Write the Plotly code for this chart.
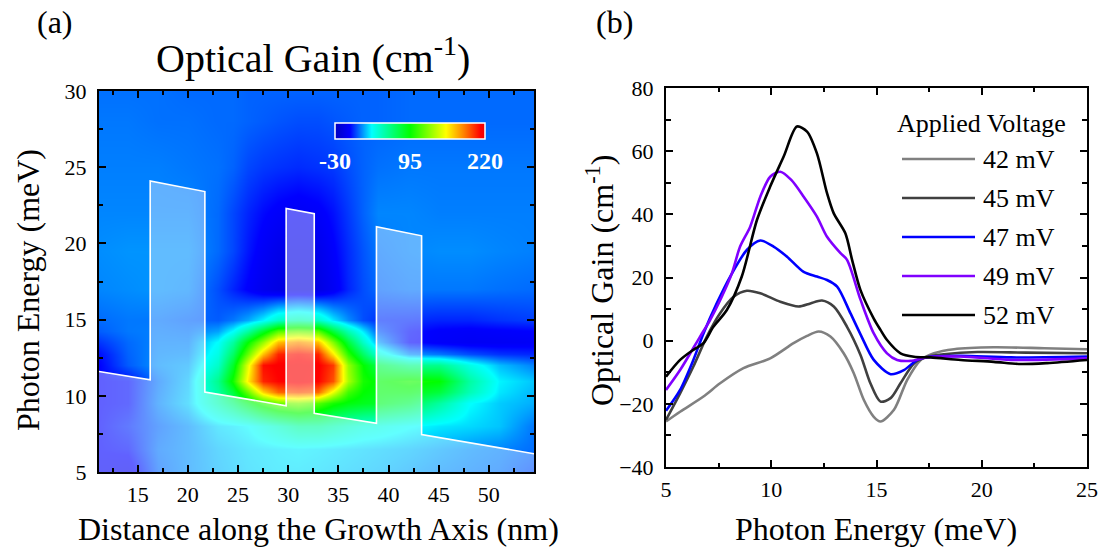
import plotly.graph_objects as go

W, H = 1109, 552
def px(x):
    return x / W
def py(y):
    return 1 - y / H

FONT = "Liberation Serif"

# ---------------- Panel (a): optical gain map ----------------
dist_nm = [11, 14, 17, 20, 23, 24.5, 26, 27.5, 29, 31, 33, 34.5, 36, 37.5, 39, 42, 45, 48, 51, 55]
energy_meV = [5, 6.5, 8, 9.5, 10.25, 11, 12, 12.75, 13.5, 14.25, 15, 17, 19.5, 22, 25, 28, 30]
gain_map = [
    [-8, -10, 10, 16, 21, 23, 25, 26, 27, 27, 26, 25, 24, 23, 22, 19, 16, 14, 12, 5],          # 5
    [-5, -3, 12, 16, 22, 24, 26, 27, 28, 29, 28, 27, 26, 25, 24, 22, 19, 16, 14, 10],          # 6.5
    [-5, 1, 10, 16, 26, 28, 31, 38, 45, 55, 55, 50, 45, 40, 38, 32, 28, 26, 23, 10],           # 8
    [-5, -3, 14, 24, 50, 65, 85, 105, 120, 125, 115, 100, 92, 88, 85, 75, 55, 32, 24, 19],     # 9.5
    [-5, -3, 13, 23, 55, 80, 120, 165, 190, 195, 190, 150, 110, 95, 90, 90, 80, 50, 28, 20],   # 10.25
    [-5, -3, 12, 22, 60, 100, 160, 205, 212, 215, 212, 195, 135, 100, 92, 100, 95, 55, 30, 22],# 11
    [-6, 8, 16, 19, 45, 85, 150, 210, 214, 215, 214, 200, 130, 95, 75, 60, 60, 38, 22, 12],    # 12
    [-4, 9, 15, 16, 38, 70, 120, 170, 205, 210, 205, 160, 105, 70, 40, 16, 12, 6, 2, 0],       # 12.75
    [2, 10, 14, 14, 32, 55, 95, 130, 170, 180, 170, 125, 80, 45, 18, -4, -7, -9, -9, -8],      # 13.5
    [8, 12, 13, 12, 18, 32, 55, 85, 115, 120, 115, 80, 50, 28, 8, -3, -6, -7, -6, -5],         # 14.25
    [10, 12, 12, 10, 8, 12, 19, 30, 45, 50, 45, 28, 15, 6, 2, 1, 0, 0, 2, 4],                  # 15
    [14, 15, 16, 15, 6, 0, -6, -12, -16, -16, -16, -9, 0, 6, 10, 12, 12, 12, 11, 10],          # 17
    [15, 16, 16, 16, 10, 5, -2, -8, -13, -13, -13, -6, 1, 7, 12, 14, 15, 15, 14, 13],          # 19.5
    [14, 14, 14, 14, 10, 5, 0, -4, -7, -9, -7, -3, 3, 9, 14, 14, 13, 13, 13, 13],              # 22
    [13, 13, 13, 12, 11, 9, 5, 3, 2, 1, 2, 3, 6, 9, 11, 12, 12, 12, 12, 12],                   # 25
    [12, 12, 11, 11, 10, 10, 9, 8, 7, 6, 6, 7, 8, 9, 9, 10, 10, 10, 10, 10],                   # 28
    [11, 11, 11, 10, 10, 10, 9, 9, 9, 9, 9, 9, 9, 9, 9, 10, 10, 10, 10, 10],                   # 30
]
colorbar_ticks = [-30, 95, 220]
colorbar_labels = ["-30", "95", "220"]

# conduction band profile (nm, meV)
profile_x = [11.15, 16.25, 16.25, 21.7, 21.7, 29.8, 29.8, 32.6, 32.6, 38.8, 38.8, 43.3, 43.3, 54.5]
profile_y = [11.6, 11.05, 24.1, 23.4, 10.25, 9.35, 22.3, 21.95, 8.85, 8.2, 21.1, 20.5, 7.45, 6.2]

# ---------------- Panel (b): gain spectra ----------------
E42 = [5.0, 5.67, 6.78, 7.57, 8.68, 9.95, 11.06, 11.7, 12.25, 12.81, 13.44, 13.92, 14.4, 14.87,
       15.19, 15.83, 16.46, 17.1, 17.73, 18.68, 20.57, 22.97, 25.0]
G42 = [-25.6, -22.5, -17.7, -13.5, -8.7, -5.6, -0.8, 1.5, 2.9, 1.3, -4.0, -10.3, -18.8, -24.1,
       -25.6, -21.9, -12.4, -6.1, -4.0, -2.7, -2.1, -2.4, -2.7]
E45 = [5.0, 5.67, 6.3, 6.94, 7.57, 8.21, 8.84, 9.48, 10.43, 11.3, 11.86, 12.41, 12.97, 13.6,
       14.24, 14.71, 15.19, 15.67, 16.14, 16.78, 17.4, 18.2, 19.8, 22.1, 25.0]
G45 = [-25.1, -16.7, -8.2, 1.3, 8.7, 13.9, 15.8, 15.0, 12.3, 10.8, 11.8, 12.7, 10.8, 4.4,
       -4.5, -13.5, -19.3, -18.2, -13.5, -7.2, -5.1, -4.3, -3.6, -3.8, -4.0]
E47 = [5.0, 5.67, 6.3, 6.78, 7.41, 8.05, 8.84, 9.48, 10.11, 10.75, 11.54, 12.17, 12.65, 13.13,
       13.76, 14.24, 14.87, 15.67, 16.3, 16.94, 17.57, 19.0, 21.4, 25.0]
G47 = [-22.2, -15.6, -6.1, 2.3, 11.8, 20.3, 28.7, 31.7, 29.8, 26.6, 21.8, 20.3, 19.2, 17.1,
       8.7, 2.0, -6.1, -10.6, -9.3, -6.1, -5.1, -4.8, -5.3, -5.0]
E49 = [5.0, 5.67, 6.62, 7.1, 7.65, 8.13, 8.52, 9.0, 9.48, 9.95, 10.43, 10.95, 11.54, 12.17,
       12.65, 13.29, 13.6, 14.24, 14.87, 15.5, 15.98, 16.62, 17.4, 19.0, 21.4, 25.0]
G49 = [-15.6, -9.3, 1.3, 6.6, 13.9, 21.3, 29.8, 36.1, 45.6, 51.9, 53.5, 50.9, 45.6, 39.3,
       32.9, 27.7, 25.6, 13.0, 2.3, -4.0, -6.1, -6.4, -5.3, -5.0, -6.1, -5.6]
E52 = [5.0, 5.67, 6.3, 6.78, 7.25, 7.89, 8.6, 9.32, 9.95, 10.59, 11.22, 11.7, 12.17, 12.65,
       12.97, 13.52, 13.84, 14.24, 14.87, 15.19, 15.5, 16.14, 16.78, 17.57, 19.0, 20.57, 21.86,
       23.1, 25.0]
G52 = [-11.4, -6.1, -2.9, -0.8, 4.4, 9.7, 20.3, 38.2, 48.8, 58.3, 67.8, 66.2, 59.3, 46.7,
       40.3, 34.0, 25.6, 16.0, 7.0, 3.4, 0.2, -4.0, -5.1, -5.3, -6.1, -6.7, -7.4, -7.1, -6.1]

series_names = ["42 mV", "45 mV", "47 mV", "49 mV", "52 mV"]
series_E = [E42, E45, E47, E49, E52]
series_G = [G42, G45, G47, G49, G52]
series_colors = ["#808080", "#404040", "#0000ff", "#8000ff", "#000000"]

jet = [
    [0.0, "#0000c0"], [0.1, "#0000ff"], [0.245, "#00ffff"], [0.5, "#00ff00"],
    [0.74, "#ffff00"], [0.86, "#ff8000"], [0.97, "#ff0000"], [1.0, "#f00000"],
]

fig = go.Figure()
fig.add_trace(go.Heatmap(
    x=dist_nm, y=energy_meV, z=gain_map, zmin=-30, zmax=220, zsmooth="best",
    colorscale=jet, xaxis="x", yaxis="y", hoverinfo="skip",
    colorbar=dict(
        orientation="h", lenmode="pixels", len=150, thickness=16,
        x=px(335), xanchor="left", y=py(122.5), yanchor="top",
        xpad=0, ypad=0, outlinecolor="white", outlinewidth=1.5,
        tickvals=colorbar_ticks, ticktext=colorbar_labels, ticks="",
        tickfont=dict(family=FONT, size=24, color="white", weight="bold"),
    ),
))
fig.add_trace(go.Scatter(
    x=profile_x + [54.6, 11.0, 11.0], y=profile_y + [4.8, 4.8, profile_y[0]],
    mode="lines", fill="toself", fillcolor="rgba(255,255,255,0.38)",
    line=dict(width=0), xaxis="x", yaxis="y", showlegend=False, hoverinfo="skip",
))
fig.add_trace(go.Scatter(
    x=profile_x, y=profile_y, mode="lines", line=dict(color="white", width=1.6),
    xaxis="x", yaxis="y", showlegend=False, hoverinfo="skip",
))

for name, E, G, c in zip(series_names, series_E, series_G, series_colors):
    fig.add_trace(go.Scatter(
        x=E, y=G, name=name, mode="lines",
        line=dict(color=c, width=2.6, shape="spline", smoothing=0.8),
        xaxis="x2", yaxis="y2", showlegend=False,
    ))

axis_common = dict(
    showline=True, linecolor="black", linewidth=2, mirror="allticks",
    ticks="inside", ticklen=7, tickwidth=1.5, tickcolor="black",
    showgrid=False, zeroline=False, automargin=False,
    tickfont=dict(family=FONT, size=22, color="black"),
)

fig.update_layout(
    width=W, height=H, margin=dict(l=0, r=0, t=0, b=0, autoexpand=False),
    paper_bgcolor="white", plot_bgcolor="white",
    font=dict(family=FONT, color="black"),
    showlegend=False,
    xaxis=dict(domain=[px(99), px(534)], range=[11.15, 54.5], tick0=15, dtick=5,
               minor=dict(dtick=2.5, ticks="inside", ticklen=4, tickcolor="black"),
               anchor="y", ticklabelstandoff=2, **axis_common),
    yaxis=dict(domain=[py(472), py(91)], range=[5, 30], tick0=5, dtick=5,
               minor=dict(dtick=2.5, ticks="inside", ticklen=4, tickcolor="black"),
               anchor="x", ticklabelstandoff=6, **axis_common),
    xaxis2=dict(domain=[px(666), px(1087)], range=[5, 25], tick0=5, dtick=5,
                minor=dict(dtick=2.5, ticks="inside", ticklen=4, tickcolor="black"),
                anchor="y2", ticklabelstandoff=2, **axis_common),
    yaxis2=dict(domain=[py(467), py(88)], range=[-40, 80], tick0=-40, dtick=20,
                minor=dict(dtick=10, ticks="inside", ticklen=5, tickcolor="black"),
                anchor="x2", ticklabelstandoff=6, **axis_common),
)

def ann(text, x, y, size, angle=0, xanchor="center"):
    fig.add_annotation(text=text, x=px(x), y=py(y), xref="paper", yref="paper",
                       showarrow=False, textangle=angle, xanchor=xanchor, yanchor="middle",
                       font=dict(family=FONT, size=size, color="black"))

ann("(a)", 55, 22, 32)
ann("(b)", 614, 22, 32)
ann("Optical Gain (cm<sup>-1</sup>)", 313, 55, 40)
ann("Distance along the Growth Axis (nm)", 318, 529, 32)
ann("Photon Energy (meV)", 28, 290, 32, angle=-90)
ann("Photon Energy (meV)", 876, 529, 32)
ann("Optical Gain (cm<sup>-1</sup>)", 600, 280, 32, angle=-90)

# legend drawn as shapes + text
ann("Applied Voltage", 981, 123, 26)
legend_y = [159, 198, 237, 276, 315]
for name, c, yy in zip(series_names, series_colors, legend_y):
    fig.add_shape(type="line", xref="paper", yref="paper",
                  x0=px(902), x1=px(975), y0=py(yy), y1=py(yy),
                  line=dict(color=c, width=2.6))
    ann(name, 981, yy, 26, xanchor="left")

fig.write_html("out.html")
